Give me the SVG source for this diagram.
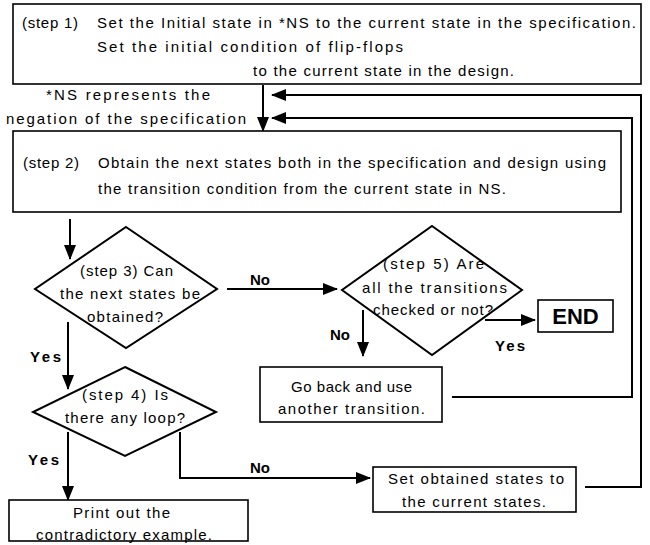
<svg xmlns="http://www.w3.org/2000/svg" width="650" height="545" viewBox="0 0 650 545">
<style>
  .box { fill: #fff; stroke: #000; stroke-width: 1.6; }
  .dia { fill: #fff; stroke: #000; stroke-width: 2; }
  .t { font-family: "Liberation Sans", Arial, sans-serif; font-size: 15px; fill: #000; }
  .lbl { font-family: "Liberation Sans", Arial, sans-serif; font-size: 15px; font-weight: bold; fill: #000; }
  .end { font-family: "Liberation Sans", Arial, sans-serif; font-size: 22px; font-weight: bold; fill: #000; }
  .c { fill: none; stroke: #000; stroke-width: 2; }
</style>
<defs>
  <marker id="ah" markerWidth="15" markerHeight="14" refX="14" refY="7" orient="auto" markerUnits="userSpaceOnUse">
    <path d="M0,1 L15,7 L0,13 Z" fill="#000"/>
  </marker>
</defs>
<rect width="650" height="545" fill="#fff"/>

<g id="connectors">
  <path class="c" d="M263,85 V131" marker-end="url(#ah)"/>
  <path class="c" d="M585,487 H641 V95 H272" marker-end="url(#ah)"/>
  <path class="c" d="M452,397 H632 V118 H272" marker-end="url(#ah)"/>
  <path class="c" d="M70,219 V259" marker-end="url(#ah)"/>
  <path class="c" d="M227,289 H337" marker-end="url(#ah)"/>
  <path class="c" d="M485,320 H535" marker-end="url(#ah)"/>
  <path class="c" d="M363,310 V356" marker-end="url(#ah)"/>
  <path class="c" d="M68,322 V389" marker-end="url(#ah)"/>
  <path class="c" d="M68,432 V500" marker-end="url(#ah)"/>
  <path class="c" d="M180,432 V478 H370" marker-end="url(#ah)"/>
  <text class="lbl" x="250" y="285">No</text>
  <text class="lbl" x="330" y="340">No</text>
  <text class="lbl" x="495" y="351" textLength="30" lengthAdjust="spacing">Yes</text>
  <text class="lbl" x="30" y="362" textLength="31" lengthAdjust="spacing">Yes</text>
  <text class="lbl" x="28" y="465" textLength="31" lengthAdjust="spacing">Yes</text>
  <text class="lbl" x="250" y="473">No</text>
</g>

<g id="step1">
  <rect class="box" x="13" y="4" width="628" height="80"/>
  <text class="t" x="22" y="28" textLength="56" lengthAdjust="spacing">(step 1)</text>
  <text class="t" x="97" y="28" textLength="539" lengthAdjust="spacing">Set the Initial state in *NS to the current state in the specification.</text>
  <text class="t" x="97" y="52" textLength="306" lengthAdjust="spacing">Set the initial condition of flip-flops</text>
  <text class="t" x="253" y="76" textLength="261" lengthAdjust="spacing">to the current state in the design.</text>
</g>

<g id="note">
  <text class="t" x="46" y="100" textLength="164" lengthAdjust="spacing">*NS represents the</text>
  <text class="t" x="6" y="124" textLength="240" lengthAdjust="spacing">negation of the specification</text>
</g>

<g id="step2">
  <rect class="box" x="13" y="131" width="608" height="81"/>
  <text class="t" x="23" y="168" textLength="56" lengthAdjust="spacing">(step 2)</text>
  <text class="t" x="98" y="168" textLength="508" lengthAdjust="spacing">Obtain the next states both in the specification and design using</text>
  <text class="t" x="98" y="194" textLength="408" lengthAdjust="spacing">the transition condition from the current state in NS.</text>
</g>

<g id="step3">
  <polygon class="dia" points="126,227 217,289 126,348 35,289"/>
  <text class="t" x="80" y="276" textLength="93" lengthAdjust="spacing">(step 3) Can</text>
  <text class="t" x="60" y="299" textLength="140" lengthAdjust="spacing">the next states be</text>
  <text class="t" x="87" y="322" textLength="76" lengthAdjust="spacing">obtained?</text>
</g>

<g id="step5">
  <polygon class="dia" points="432,226 522,290 432,355 342,290"/>
  <text class="t" x="383" y="269" textLength="101" lengthAdjust="spacing">(step 5)  Are</text>
  <text class="t" x="362" y="293" textLength="145" lengthAdjust="spacing">all the transitions</text>
  <text class="t" x="373" y="315" textLength="120" lengthAdjust="spacing">checked or not?</text>
</g>

<g id="end">
  <rect class="box" x="538" y="300" width="75" height="32"/>
  <text class="end" x="575.5" y="324" text-anchor="middle">END</text>
</g>

<g id="goback">
  <rect class="box" x="260" y="367" width="182" height="55"/>
  <text class="t" x="291" y="392" textLength="121" lengthAdjust="spacing">Go back and use</text>
  <text class="t" x="278" y="414" textLength="147" lengthAdjust="spacing">another transition.</text>
</g>

<g id="step4">
  <polygon class="dia" points="125,367 216,412 125,456 33,412"/>
  <text class="t" x="82" y="400" textLength="86" lengthAdjust="spacing">(step 4)  Is</text>
  <text class="t" x="65" y="423" textLength="120" lengthAdjust="spacing">there any loop?</text>
</g>

<g id="print">
  <rect class="box" x="9" y="500" width="239" height="41"/>
  <text class="t" x="73" y="518" textLength="97" lengthAdjust="spacing">Print out the</text>
  <text class="t" x="36" y="540" textLength="176" lengthAdjust="spacing">contradictory example.</text>
</g>

<g id="setstates">
  <rect class="box" x="373" y="467" width="203" height="45"/>
  <text class="t" x="388" y="484" textLength="176" lengthAdjust="spacing">Set obtained states to</text>
  <text class="t" x="402" y="507" textLength="144" lengthAdjust="spacing">the current states.</text>
</g>
</svg>
